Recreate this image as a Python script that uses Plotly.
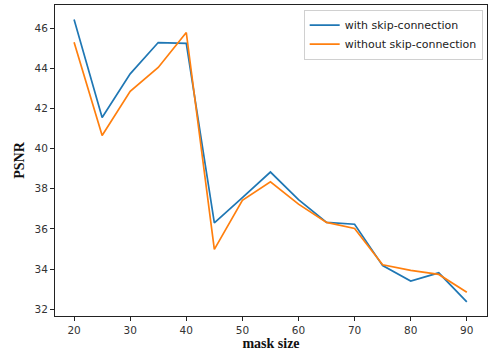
import plotly.graph_objects as go

mask_size = [20, 25, 30, 35, 40, 45, 50, 55, 60, 65, 70, 75, 80, 85, 90]
with_skip = [46.43, 41.55, 43.72, 45.28, 45.24, 36.30, 37.55, 38.83, 37.46, 36.32, 36.23, 34.17, 33.40, 33.81, 32.36]
without_skip = [45.30, 40.65, 42.85, 44.04, 45.78, 34.98, 37.42, 38.34, 37.23, 36.32, 36.02, 34.21, 33.93, 33.73, 32.84]

x_ticks = [20, 30, 40, 50, 60, 70, 80, 90]
y_ticks = [32, 34, 36, 38, 40, 42, 44, 46]

fig = go.Figure()
fig.add_trace(go.Scatter(x=mask_size, y=with_skip, mode="lines", name="with skip-connection",
                         line=dict(color="#1f77b4", width=1.7)))
fig.add_trace(go.Scatter(x=mask_size, y=without_skip, mode="lines", name="without skip-connection",
                         line=dict(color="#ff7f0e", width=1.7)))

axis_common = dict(showline=True, mirror=True, linecolor="#222", linewidth=1,
                   ticks="outside", ticklen=4, tickcolor="#222", showgrid=False, zeroline=False,
                   automargin=False,
                   tickfont=dict(family="DejaVu Sans", size=10.5, color="#333"))

fig.update_layout(
    width=488, height=354,
    margin=dict(l=55, r=1, t=5, b=38),
    paper_bgcolor="white", plot_bgcolor="white",
    xaxis=dict(range=[16.6, 93.6], tickvals=x_ticks,
               title=dict(text="<b>mask size</b>", font=dict(family="Liberation Serif", size=14, color="#111"), standoff=2),
               **axis_common),
    yaxis=dict(range=[31.66, 47.15], tickvals=y_ticks,
               title=dict(text="<b>PSNR</b>", font=dict(family="Liberation Serif", size=14, color="#111"), standoff=6),
               **axis_common),
    legend=dict(x=0.99, y=0.985, xanchor="right", yanchor="top",
                bordercolor="#d0d0d0", borderwidth=1, bgcolor="rgba(255,255,255,0.8)",
                font=dict(family="DejaVu Sans", size=11, color="#222"),
                itemwidth=30, tracegroupgap=0),
    showlegend=True,
)

fig.write_html("out.html", config={"displayModeBar": False},
               post_script="document.body.style.margin='0';document.body.style.overflow='hidden';")
